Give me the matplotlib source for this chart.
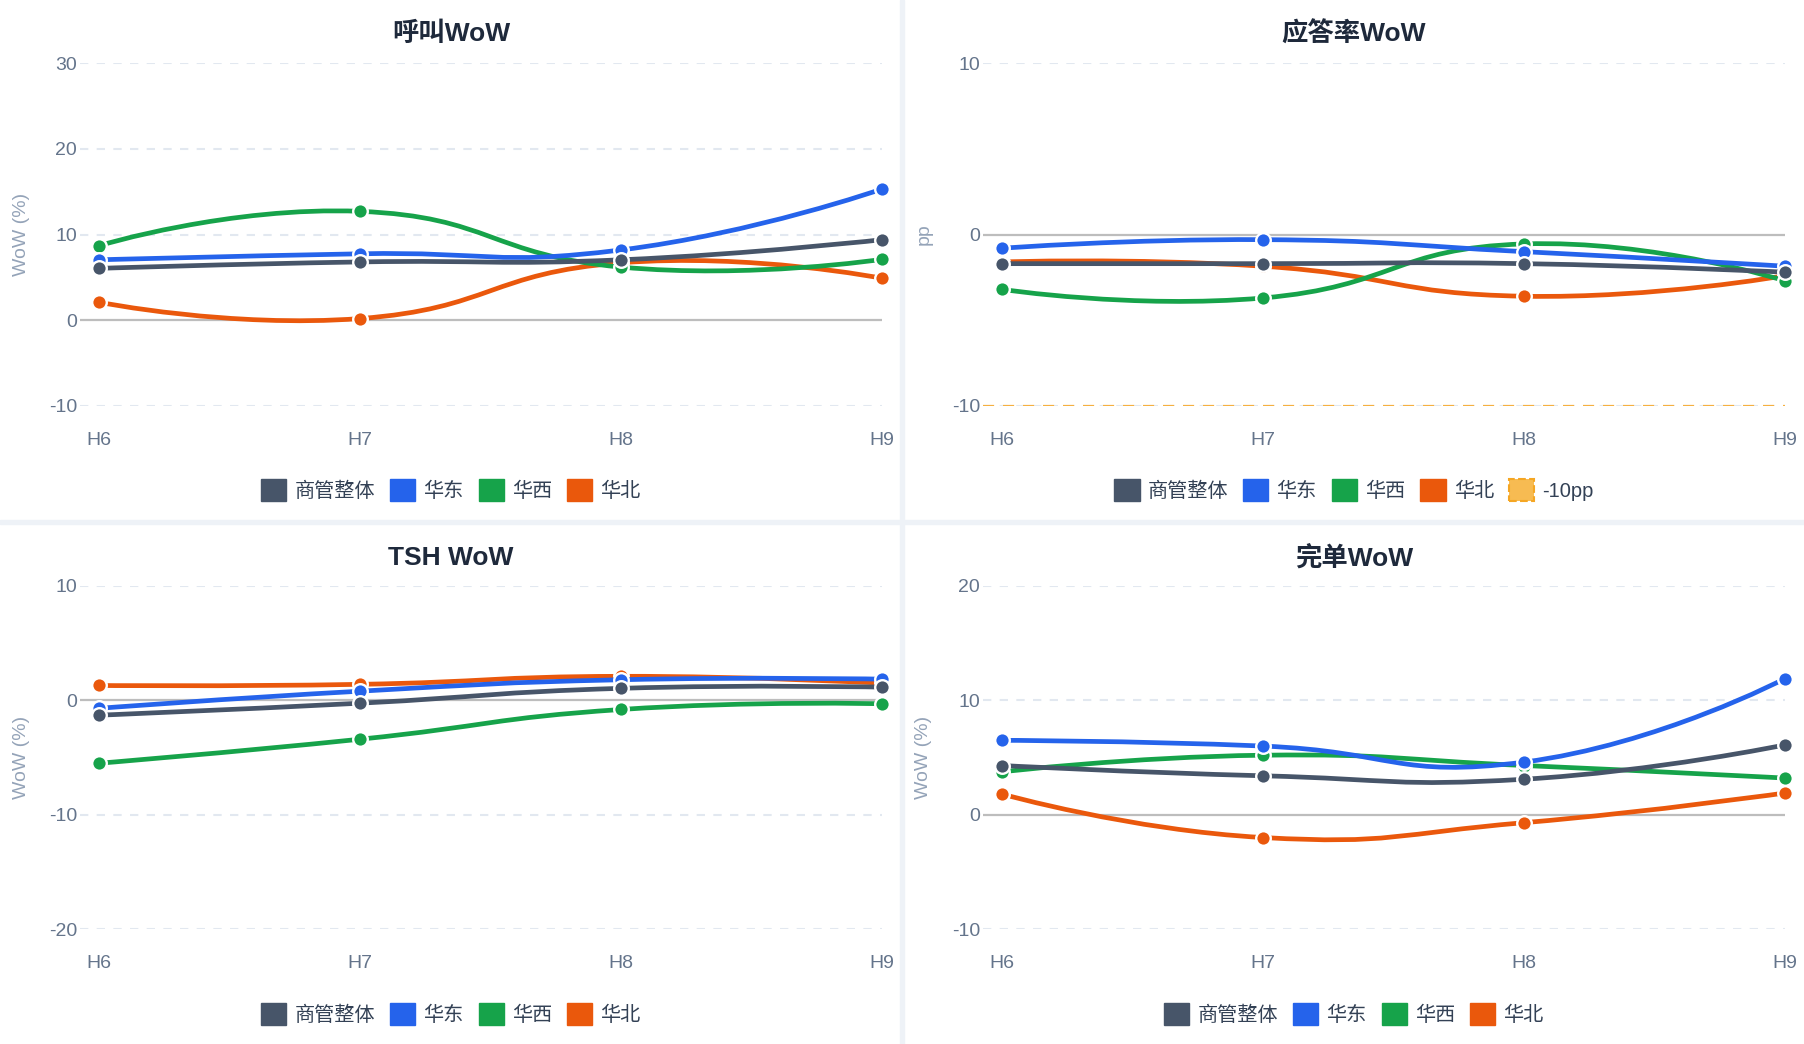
import numpy as np
import matplotlib
matplotlib.use("Agg")
import matplotlib.pyplot as plt
from matplotlib.path import Path
from matplotlib.patches import PathPatch, Patch, Rectangle

plt.rcParams['font.family'] = ['Liberation Sans', 'Noto Sans CJK SC']
plt.rcParams['axes.unicode_minus'] = False

# data
hours = ['H6', 'H7', 'H8', 'H9']
series_names = ['商管整体', '华东', '华西', '华北']
colors = ['#475569', '#2563eb', '#16a34a', '#ea580c']

call_wow = [
    [6.05, 6.8, 7.05, 9.4],
    [7.05, 7.75, 8.2, 15.3],
    [8.7, 12.7, 6.2, 7.1],
    [2.1, 0.2, 6.7, 4.9],
]
answer_pp = [
    [-1.7, -1.7, -1.7, -2.2],
    [-0.8, -0.3, -1.0, -1.85],
    [-3.2, -3.7, -0.55, -2.7],
    [-1.6, -1.85, -3.6, -2.4],
]
tsh_wow = [
    [-1.3, -0.25, 1.05, 1.15],
    [-0.7, 0.8, 1.8, 1.85],
    [-5.5, -3.4, -0.8, -0.3],
    [1.3, 1.4, 2.1, 1.5],
]
done_wow = [
    [4.3, 3.4, 3.1, 6.1],
    [6.5, 6.0, 4.6, 11.9],
    [3.75, 5.2, 4.3, 3.2],
    [1.8, -2.0, -0.7, 1.9],
]
threshold_pp = -10

W, H = 1804, 1044
fig = plt.figure(figsize=(W / 100, H / 100), dpi=100)
fig.patch.set_facecolor('white')

# panel separators
fig.add_artist(Rectangle((900 / W, 0), 4 / W, 1, transform=fig.transFigure,
                         color='#eef2f7', zorder=0))
fig.add_artist(Rectangle((0, 1 - 524 / H), 1, 4 / H, transform=fig.transFigure,
                         color='#eef2f7', zorder=0))


def smooth_curve(ax, ys, smooth=0.5):
    # bezier control points in the same way as a smoothed echarts line
    xs = np.arange(len(ys), dtype=float)
    pts = ax.transData.transform(np.column_stack([xs, ys]))
    n = len(pts)
    cin = pts.copy()
    cout = pts.copy()
    for i in range(1, n - 1):
        prev, cur, nxt = pts[i - 1], pts[i], pts[i + 1]
        v = nxt - prev
        d0 = np.hypot(*(cur - prev))
        d1 = np.hypot(*(nxt - cur))
        r = d1 / (d0 + d1)
        cin[i] = cur - v * smooth * (1 - r)
        cout[i] = cur + v * smooth * r
    verts = [pts[0]]
    codes = [Path.MOVETO]
    for i in range(n - 1):
        verts += [cout[i], cin[i + 1], pts[i + 1]]
        codes += [Path.CURVE4] * 3
    verts = ax.transData.inverted().transform(np.array(verts))
    return Path(verts, codes)


def panel(left_px, top_px, title, data, yticks, ylabel, title_y, legend_y, extra=False):
    left, right = left_px, left_px + 802
    bottom = top_px + 343
    ax = fig.add_axes([left / W, 1 - bottom / H, (right - left) / W, 343 / H])
    ax.set_xlim(-0.073, 3)
    ax.set_ylim(yticks[0], yticks[-1])
    for s in ax.spines.values():
        s.set_visible(False)
    for t in yticks:
        if t == 0:
            ax.axhline(0, color='#bdbdbd', lw=1.6, zorder=1)
        else:
            ax.axhline(t, color='#e2e8f0', lw=1.5, ls=(0, (4, 4)), zorder=1)
    ax.set_xticks(range(len(hours)))
    ax.set_xticklabels(hours)
    ax.set_yticks(yticks)
    ax.tick_params(length=0, labelsize=14, colors='#64748b')
    ax.tick_params(axis='x', pad=19)
    ax.tick_params(axis='y', pad=2)

    if extra:
        ax.axhline(threshold_pp, color='#f5b041', lw=1.6, ls=(0, (5, 4)), zorder=2)

    for i, (name, ys) in enumerate(zip(series_names, data)):
        z = 10 - i * 2
        p = smooth_curve(ax, ys)
        ax.add_patch(PathPatch(p, fill=False, edgecolor=colors[i], lw=3.4,
                               capstyle='round', joinstyle='round', zorder=z))
        ax.plot(range(len(ys)), ys, 'o', ms=10.5, mfc=colors[i], mec='white',
                mew=1.7, zorder=z + 1, clip_on=False)

    cx = (451 if left_px < 900 else 1354) / W
    fig.text(cx, 1 - title_y / H, title, ha='center', va='center',
             fontsize=19, fontweight='bold', color='#1e293b')
    ylx = (21 if left_px < 900 else 924) / W
    fig.text(ylx, 1 - (top_px + 171.5) / H, ylabel, rotation=90, ha='center',
             va='center', fontsize=14, color='#94a3b8')

    handles = [Patch(facecolor=c, edgecolor=c, label=n) for c, n in zip(colors, series_names)]
    if extra:
        handles.append(Patch(facecolor='#f7bb52', edgecolor='#f5a623', ls='--',
                             lw=1.5, label='-10pp'))
    fig.legend(handles=handles, loc='center', bbox_to_anchor=(cx, 1 - legend_y / H),
               ncol=len(handles), frameon=False, fontsize=14.5, handlelength=1.25,
               handleheight=1.25, handletextpad=0.4, columnspacing=0.75,
               labelcolor='#334155')
    return ax


panel(80, 63, '呼叫WoW', call_wow, [-10, 0, 10, 20, 30], 'WoW (%)', 34, 490)
panel(983, 63, '应答率WoW', answer_pp, [-10, 0, 10], 'pp', 34, 490, extra=True)
panel(80, 586, 'TSH WoW', tsh_wow, [-20, -10, 0, 10], 'WoW (%)', 558, 1014)
panel(983, 586, '完单WoW', done_wow, [-10, 0, 10, 20], 'WoW (%)', 558, 1014)

fig.savefig('out.png', dpi=100)
